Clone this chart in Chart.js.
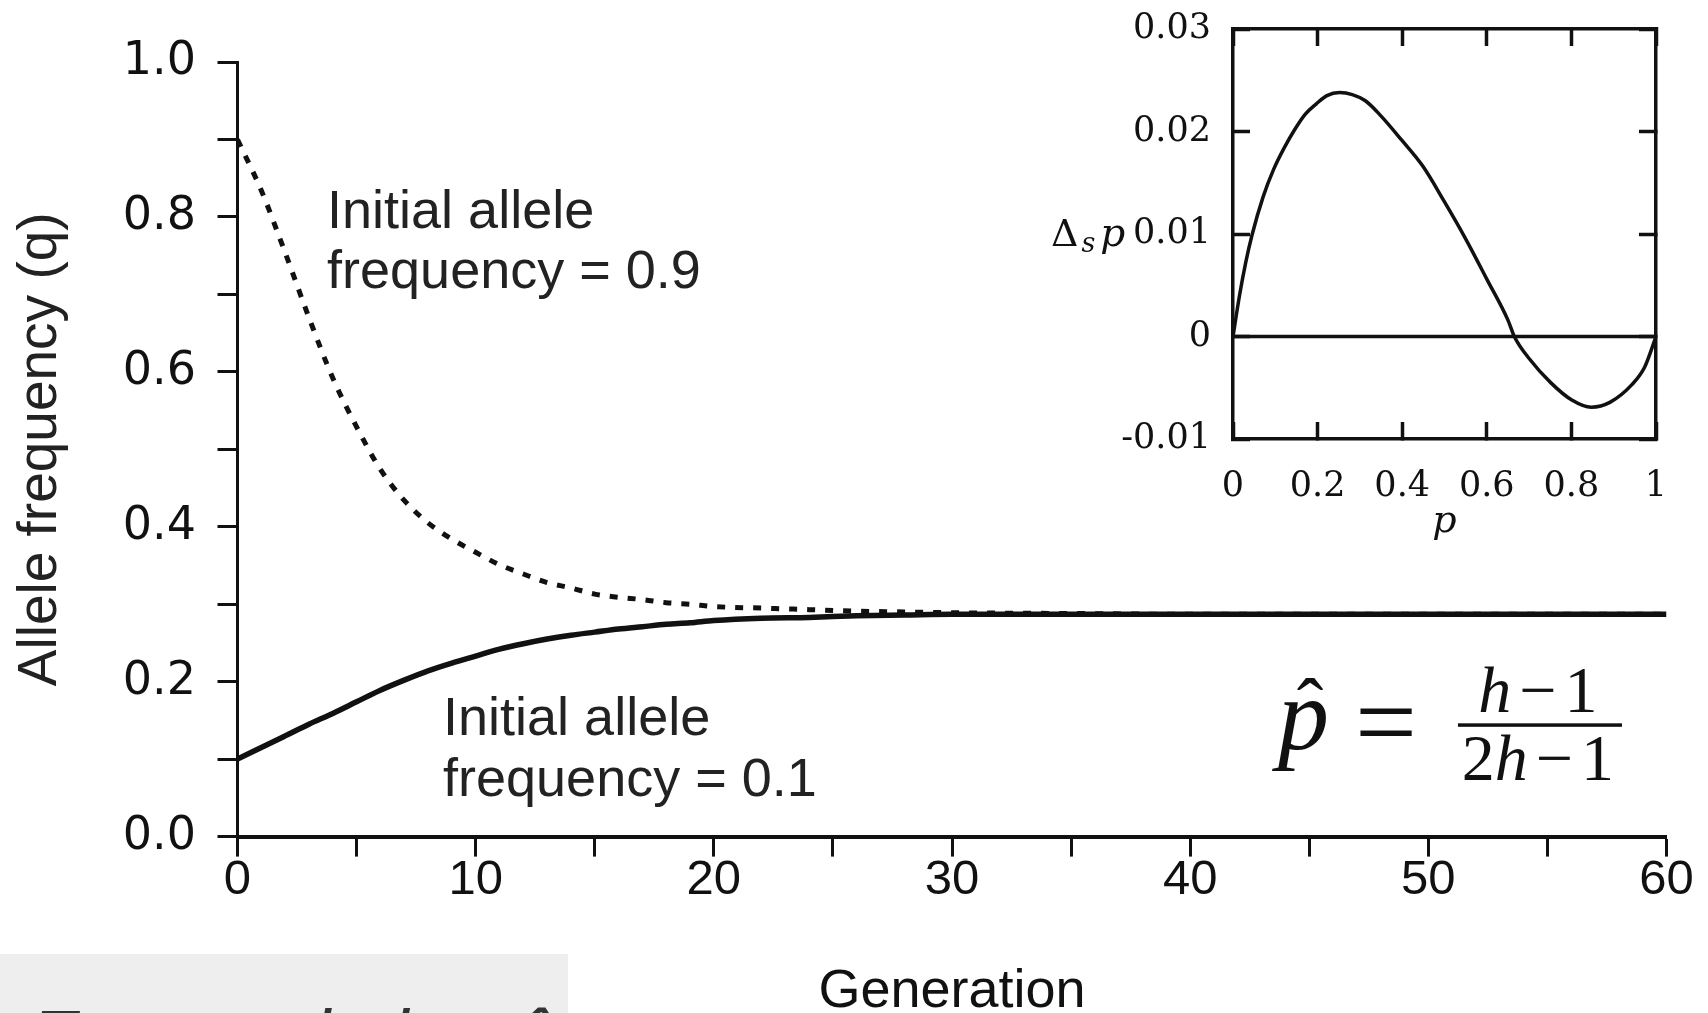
<!DOCTYPE html>
<html><head><meta charset="utf-8">
<script src="https://cdn.jsdelivr.net/npm/chart.js@4.4.1/dist/chart.umd.min.js"></script>
<style>
html,body{margin:0;padding:0;background:#fff;}
#wrap{position:relative;width:1708px;height:1013px;overflow:hidden;background:#fff;}
#main{position:absolute;left:0;top:0;}
#inset{position:absolute;left:1040px;top:0;}
#note{position:absolute;left:0;top:954px;width:568px;height:59px;background:#eeeeee;overflow:hidden;}
#note span{position:absolute;left:30px;top:46px;font:italic 74px/1 "Liberation Sans",Arial,sans-serif;color:#333;white-space:nowrap;}
</style></head>
<body><div id="wrap">
<canvas id="main" width="1708" height="1013"></canvas>
<canvas id="inset" width="668" height="540"></canvas>
<div id="note"><span>Exact solution p&#770;</span></div>
</div>
<script>
// ---- main chart data ----
const generations = [0,1,2,3,4,5,6,7,8,9,10,11,12,13,14,15,16,17,18,19,20,22,24,26,28,30,35,40,45,50,55,60];
const qStart01 = [0.100,0.115,0.130,0.145,0.159,0.174,0.189,0.202,0.214,0.224,0.233,0.242,0.249,0.255,0.260,0.264,0.268,0.271,0.274,0.276,0.279,0.282,0.283,0.285,0.286,0.287,0.287,0.287,0.287,0.287,0.287,0.287];
const qStart09 = [0.900,0.834,0.754,0.670,0.592,0.529,0.474,0.434,0.405,0.384,0.367,0.351,0.339,0.328,0.321,0.313,0.309,0.306,0.302,0.300,0.297,0.295,0.293,0.291,0.290,0.289,0.288,0.287,0.287,0.287,0.287,0.287];
const xTickLabels = ['0','10','20','30','40','50','60'];
const yTickLabels = ['0.0','0.2','0.4','0.6','0.8','1.0'];

// ---- inset data ----
const pValues = [0,0.015,0.030,0.045,0.071,0.096,0.121,0.146,0.171,0.197,0.222,0.252,0.282,0.313,0.348,0.398,0.449,0.499,0.549,0.600,0.650,0.665,0.701,0.751,0.801,0.847,0.892,0.943,0.973,1.0];
const deltaSP = [0,0.0039,0.0072,0.0099,0.0136,0.0163,0.0184,0.0202,0.0217,0.0227,0.0235,0.0238,0.0236,0.0230,0.0216,0.0192,0.0166,0.0132,0.0096,0.0056,0.0016,0,-0.0022,-0.0045,-0.0062,-0.0069,-0.0064,-0.0047,-0.0030,0];
const insetXTickLabels = ['0','0.2','0.4','0.6','0.8','1'];
const insetYTickLabels = ['-0.01','0','0.01','0.02','0.03'];

const INK = '#111';
const SANS = '"Liberation Sans", Arial, Helvetica, sans-serif';
const SERIF = '"Liberation Serif", "Times New Roman", serif';
const DSERIF = '"DejaVu Serif", serif';
Chart.defaults.font.family = SANS;
Chart.defaults.color = INK;

const pts = (xs, ys) => xs.map((v, i) => ({x: v, y: ys[i]}));

const annotations = [
  {text: 'Initial allele', x: 3.76, y: 0.786},
  {text: 'frequency = 0.9', x: 3.76, y: 0.708},
  {text: 'Initial allele', x: 8.63, y: 0.131},
  {text: 'frequency = 0.1', x: 8.63, y: 0.0525}
];
const eqAnchor = {x: 43.35, y: 0.113};

function drawMath(ctx, parts, cx, baseY, size, gap) {
  const widths = parts.map(([t, it]) => { ctx.font = (it ? 'italic ' : '') + size + 'px ' + SERIF; return ctx.measureText(t).width; });
  let total = widths.reduce((a, b) => a + b, 0);
  parts.forEach(([t]) => { if (t === '\u2212') total += 2 * gap; });
  let xx = cx - total / 2;
  ctx.textAlign = 'left';
  parts.forEach(([t, it], i) => {
    if (t === '\u2212') xx += gap;
    ctx.font = (it ? 'italic ' : '') + size + 'px ' + SERIF;
    ctx.fillText(t, xx, baseY);
    xx += widths[i];
    if (t === '\u2212') xx += gap;
  });
}

const mainText = {
  id: 'mainText',
  afterDatasetsDraw(chart) {
    const {ctx, scales: {x, y}} = chart;
    ctx.save();
    ctx.fillStyle = '#222';
    ctx.textAlign = 'left';
    ctx.textBaseline = 'alphabetic';
    ctx.font = '54px ' + SANS;
    annotations.forEach(a => ctx.fillText(a.text, x.getPixelForValue(a.x), y.getPixelForValue(a.y)));
    // equation  p-hat = (h-1)/(2h-1)
    const px = x.getPixelForValue(eqAnchor.x), py = y.getPixelForValue(eqAnchor.y);
    ctx.fillStyle = INK;
    ctx.font = 'italic 102px ' + SERIF;
    ctx.fillText('p', px + 8, py);
    ctx.font = '80px ' + SERIF;
    ctx.textAlign = 'center';
    ctx.fillText('\u02C6', px + 40, py - 15);
    ctx.textAlign = 'left';
    ctx.font = '110px ' + SERIF;
    ctx.fillText('=', px + 85, py + 10);
    ctx.fillRect(px + 188, py - 25.75, 164, 3.5);
    drawMath(ctx, [['h', true], ['\u2212', false], ['1', false]], px + 268, py - 37, 66, 8);
    drawMath(ctx, [['2', false], ['h', true], ['\u2212', false], ['1', false]], px + 268, py + 31, 66, 8);
    ctx.restore();
  }
};

new Chart(document.getElementById('main'), {
  type: 'line',
  data: {
    datasets: [
      {data: pts(generations, qStart09), borderColor: INK, borderWidth: 5, borderDash: [8, 10], cubicInterpolationMode: 'monotone', pointRadius: 0, fill: false},
      {data: pts(generations, qStart01), borderColor: INK, borderWidth: 5.5, cubicInterpolationMode: 'monotone', pointRadius: 0, fill: false}
    ]
  },
  options: {
    responsive: false, animation: false,
    layout: {padding: {top: 62, right: 41.5, bottom: 0, left: 0}},
    plugins: {legend: {display: false}, tooltip: {enabled: false}},
    scales: {
      x: {
        type: 'linear', min: 0, max: 60,
        afterFit(s) { s.height = 176.4; },
        ticks: {stepSize: 5, autoSkip: false, maxRotation: 0, padding: -6, color: INK,
          font: {size: 49, lineHeight: 1.2},
          callback: v => (v % 10 === 0 ? xTickLabels[v / 10] : '')},
        grid: {drawOnChartArea: false, tickLength: 20, tickWidth: 3, tickColor: INK},
        border: {width: 4, color: INK},
        title: {display: true, text: 'Generation', color: INK, font: {size: 54, lineHeight: 0.75}, padding: {top: 0, bottom: 1}}
      },
      y: {
        min: 0, max: 1,
        afterFit(s) { s.width = 237.5; },
        ticks: {stepSize: 0.1, autoSkip: false, padding: 21.5, color: INK, font: {family: '"DejaVu Sans", ' + SANS, size: 46},
          callback: v => { const k = Math.round(v * 10); return k % 2 === 0 ? yTickLabels[k / 2] : ''; }},
        grid: {drawOnChartArea: false, tickLength: 20, tickWidth: 3, tickColor: INK},
        border: {width: 3, color: INK},
        title: {display: true, text: 'Allele frequency (q)', color: '#222', font: {size: 55, lineHeight: 1.2}, padding: {top: 8, bottom: 0}}
      }
    }
  },
  plugins: [mainText]
});

// ---- inset ----
const insetText = {
  id: 'insetText',
  afterDraw(chart) {
    const {ctx, scales: {y}} = chart;
    const by = y.getPixelForValue(0.01) + 12;
    ctx.save();
    ctx.fillStyle = INK;
    ctx.textAlign = 'left';
    ctx.textBaseline = 'alphabetic';
    let xx = 11;
    ctx.font = '38px ' + DSERIF;
    ctx.fillText('\u0394', xx, by); xx += ctx.measureText('\u0394').width + 3;
    ctx.font = 'italic 27px ' + DSERIF;
    ctx.fillText('s', xx, by + 6); xx += ctx.measureText('s').width + 5;
    ctx.font = 'italic 39px ' + DSERIF;
    ctx.fillText('p', xx, by);
    ctx.restore();
  }
};

const insetGrid = {drawOnChartArea: false, tickLength: -17, tickWidth: 3.5, tickColor: INK};
const insetBorder = {width: 3.5, color: INK};
const insetFont = {family: DSERIF, size: 35};
const noPad = s => { s.paddingTop = 0; s.paddingBottom = 0; s.paddingLeft = 0; s.paddingRight = 0; };

new Chart(document.getElementById('inset'), {
  type: 'line',
  data: {
    datasets: [
      {data: [{x: 0, y: 0}, {x: 1, y: 0}], borderColor: INK, borderWidth: 3.5, pointRadius: 0, xAxisID: 'x', yAxisID: 'y'},
      {data: pts(pValues, deltaSP), borderColor: INK, borderWidth: 3.5, pointRadius: 0, cubicInterpolationMode: 'monotone', xAxisID: 'x', yAxisID: 'y'}
    ]
  },
  options: {
    responsive: false, animation: false,
    layout: {padding: {top: 29, right: 52, bottom: 0, left: 0}},
    plugins: {legend: {display: false}, tooltip: {enabled: false}},
    scales: {
      x: {
        type: 'linear', position: 'bottom', min: 0, max: 1,
        afterFit(s) { s.height = 101; noPad(s); },
        ticks: {stepSize: 0.2, autoSkip: false, maxRotation: 0, padding: 44, color: INK, font: insetFont,
          callback: v => insetXTickLabels[Math.round(v * 5)]},
        grid: insetGrid, border: insetBorder,
        title: {display: true, text: 'p', color: INK, font: {family: DSERIF, size: 38, style: 'italic', lineHeight: 1.2}, padding: {top: 0, bottom: -5}}
      },
      x2: {
        type: 'linear', position: 'top', min: 0, max: 1,
        afterFit(s) { s.height = 0; noPad(s); },
        ticks: {stepSize: 0.2, display: false},
        grid: insetGrid, border: insetBorder
      },
      y: {
        type: 'linear', position: 'left', min: -0.01, max: 0.03,
        afterFit(s) { s.width = 193; noPad(s); },
        ticks: {stepSize: 0.01, autoSkip: false, padding: 39, color: INK, font: insetFont,
          callback: v => insetYTickLabels[Math.round(v * 100) + 1]},
        grid: insetGrid, border: insetBorder
      },
      y2: {
        type: 'linear', position: 'right', min: -0.01, max: 0.03,
        afterFit(s) { s.width = 0; noPad(s); },
        ticks: {stepSize: 0.01, display: false},
        grid: insetGrid, border: insetBorder
      }
    }
  },
  plugins: [insetText]
});
</script>
</body></html>
